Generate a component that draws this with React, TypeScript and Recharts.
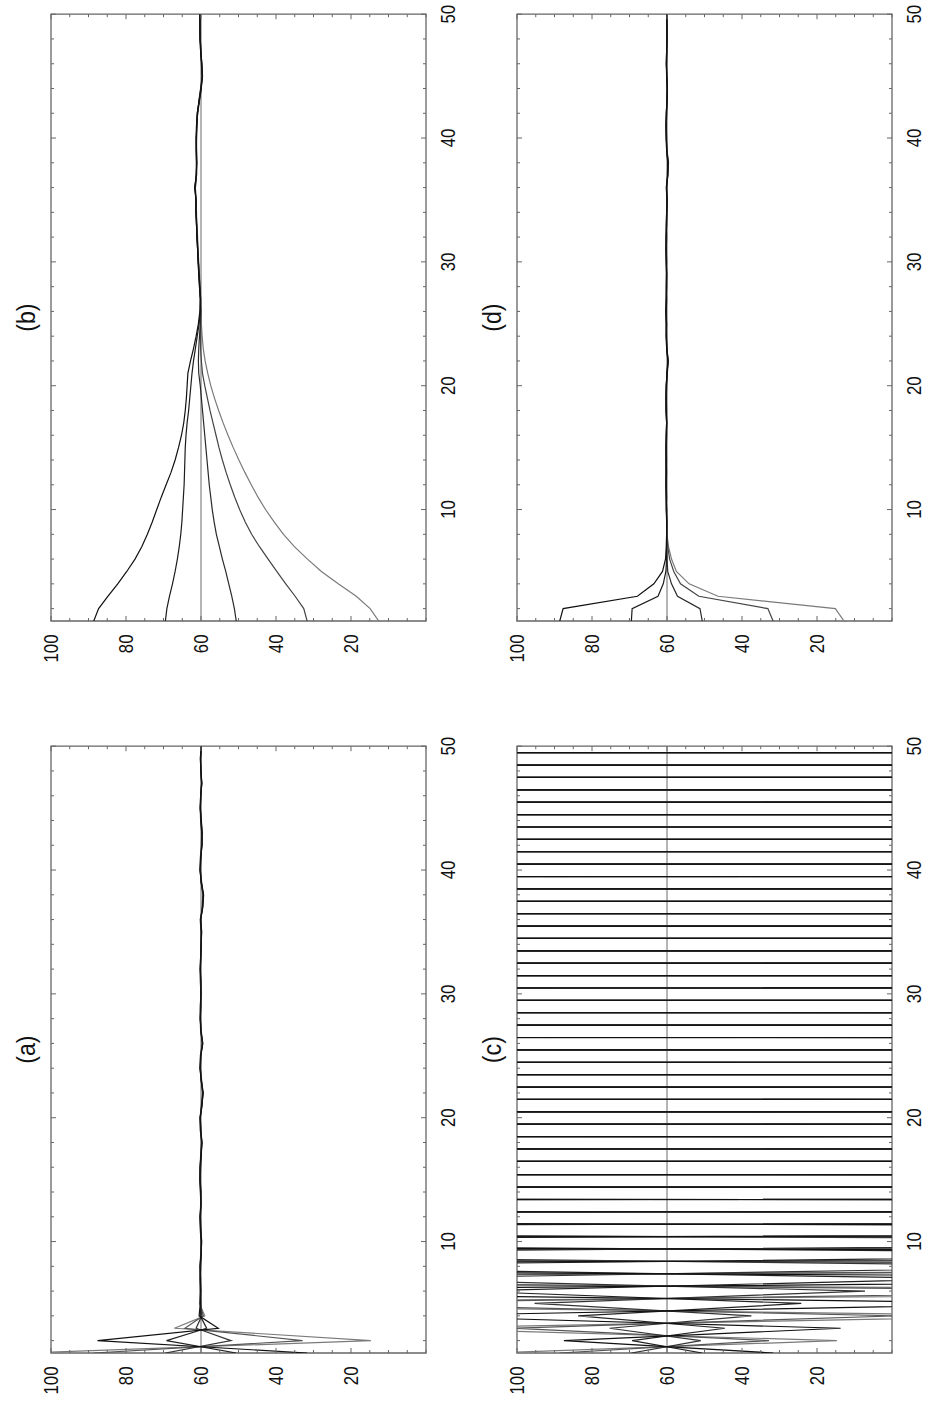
import React from 'react';
import { LineChart, Line, XAxis, YAxis, ReferenceLine, ReferenceArea } from 'recharts';

// ---------- categories / ticks ----------
const INDEX = [1,2,3,4,5,6,7,8,9,10,11,12,13,14,15,16,17,18,19,20,21,22,23,24,25,26,27,28,29,30,31,32,33,34,35,36,37,38,39,40,41,42,43,44,45,46,47,48,49,50];
const INDEX_TICKS = [2,4,6,8,10,12,14,16,18,20,22,24,26,28,30,32,34,36,38,40,42,44,46,48,50];
const INDEX_LABELS = [10,20,30,40,50];
const VALUE_TICKS = [0,5,10,15,20,25,30,35,40,45,50,55,60,65,70,75,80,85,90,95,100];
const VALUE_LABELS = [20,40,60,80,100];
const TITLES = ['(a)', '(b)', '(c)', '(d)'];

// ---------- panel (a) ----------
const A_S1 = [88.6,32.9,64.3,59.4, 60.3,60.1,60.3,60.2,60.1,59.9,60.1,60.2,60.0,60.2, 60.3,60.2,60.0,59.8,60.1,60.3,59.8,59.5,59.9,60.2, 60.1,59.6,60.0,60.2,60.1,60.0,60.2,60.2,60.1,60.0, 59.9,60.1,59.6,59.4,59.9,60.2,60.1,59.8,59.7,60.0, 60.2,60.1,59.8,60.0,60.1,59.9];
const A_S2 = [69.5,52.0,61.3,59.8, 60.1,60.0,60.2,60.2,60.0,59.9,60.0,60.1,60.0,60.1, 60.2,60.2,60.1,59.9,60.0,60.2,59.9,59.6,59.9,60.1, 60.1,59.7,60.0,60.1,60.1,60.0,60.1,60.1,60.1,60.0, 59.9,60.0,59.7,59.5,59.9,60.1,60.1,59.9,59.8,60.0, 60.1,60.1,59.9,60.0,60.1,60.0];
const A_S3 = [50.6,69.2,58.5,60.2, 60.0,60.2,60.2,60.1,59.9,60.0,60.2,60.2,60.1,60.0, 60.2,60.1,59.9,59.8,60.2,60.2,59.7,59.5,60.0,60.2, 60.0,59.6,60.1,60.2,60.0,60.1,60.1,60.2,60.0,59.9, 60.0,60.2,59.6,59.4,60.0,60.2,60.0,59.8,59.8,60.1, 60.2,60.0,59.8,60.1,60.1,59.9];
const A_S4 = [31.7,87.6,55.4,60.5, 60.2,60.1,60.1,60.3,60.0,59.8,60.1,60.3,60.0,60.1, 60.3,60.3,60.0,59.7,60.1,60.2,59.8,59.4,59.9,60.3, 60.1,59.5,60.0,60.2,60.2,60.0,60.0,60.2,60.1,60.0, 59.8,60.1,59.5,59.3,59.9,60.3,60.1,59.7,59.7,59.9, 60.2,60.1,59.8,60.0,60.2,59.9];
const A_S5 = [107.2,14.7,67.1,59.0, 60.4,60.2,60.2,60.1,60.1,60.0,60.1,60.2,60.0,60.0, 60.3,60.1,60.0,59.8,60.0,60.2,59.8,59.5,59.8,60.2, 60.2,59.6,59.9,60.2,60.1,60.0,60.1,60.2,60.1,60.1, 59.9,60.1,59.6,59.4,59.8,60.2,60.2,59.8,59.6,60.0, 60.2,60.1,59.8,60.0,60.1,59.9];

// ---------- panel (b) ----------
const B_S1 = [88.6,87.3,84.8,82.2,79.8,77.6,75.8,74.3,73.0,71.8, 70.6,69.3,68.0,66.9,66.0,65.2,64.6,64.2,63.9,63.7, 63.5,62.8,62.0,61.3,60.7,60.3,60.2,60.4,60.6,60.8, 60.9,61.1,61.2,61.4,61.3,61.7,61.2,61.2,61.3,61.3, 61.2,61.0,60.5,60.0,59.6,59.8,60.1,60.3,60.3,60.3];
const B_S2 = [69.5,69.1,68.4,67.6,66.9,66.3,65.8,65.4,65.1,64.9, 64.7,64.5,64.4,64.3,64.2,64.0,63.7,63.3,63.0,62.7, 62.4,62.0,61.5,61.0,60.5,60.2,60.1,60.3,60.5,60.7, 60.9,61.0,61.2,61.3,61.4,61.6,61.3,61.1,61.2,61.3, 61.1,60.9,60.4,59.9,59.7,59.9,60.1,60.2,60.3,60.2];
const B_S3 = [50.6,51.1,51.8,52.6,53.4,54.3,55.1,55.9,56.5,57.0, 57.4,57.8,58.1,58.4,58.7,59.0,59.3,59.6,59.9,60.2, 60.6,60.7,60.6,60.4,60.2,60.1,60.2,60.4,60.6,60.7, 60.9,61.1,61.1,61.3,61.4,61.5,61.2,61.2,61.2,61.2, 61.1,61.0,60.5,60.1,59.7,59.8,60.0,60.2,60.3,60.3];
const B_S4 = [31.7,32.6,34.9,37.4,39.8,42.1,44.4,46.5,48.2,49.7, 51.0,52.2,53.3,54.3,55.2,56.0,56.8,57.6,58.3,59.0, 59.6,59.9,60.1,60.1,60.1,60.0,60.1,60.3,60.5,60.7, 60.8,61.0,61.2,61.3,61.3,61.6,61.3,61.2,61.3,61.2, 61.2,60.9,60.5,60.0,59.6,59.8,60.0,60.2,60.2,60.3];
const B_S5 = [12.6,14.9,18.6,23.4,27.9,31.6,35.1,38.0,40.5,42.8, 44.8,46.6,48.3,49.9,51.4,52.8,54.1,55.3,56.4,57.4, 58.2,58.9,59.4,59.7,59.9,60.0,60.1,60.2,60.4,60.6, 60.8,60.9,61.1,61.2,61.3,61.5,61.2,61.1,61.2,61.2, 61.1,60.9,60.6,60.1,59.7,59.8,60.0,60.2,60.2,60.2];

// ---------- panel (c) ----------
const C_S1 = [88.6,32.8,100.8,-1.2,151.8,-77.7,266.5,-249.8,524.8,-637, 1106,-1509,2413,-3468,5353,-7880,8794,-9547,10627,-11565, 12847,-14005,15534,-16959,18782,-20536,22715,-24861,27472,-30094, 33230,-36426,40196,-44088,48623,-53361,58812,-64567,71161,-78140, 86094,-94569,104154,-114452,126023,-138497,152462,-167601,184476,-202798];
const C_S2 = [69.5,51.0,75.3,37.5,95.3,7.2,139,-58.6,238,-207, 460,-540,960,-1290,2085,-2977,3401,-3615,4102,-4387, 4951,-5320,5978,-6450,7221,-7817,8725,-9472,10545,-11473, 12747,-13895,15411,-16826,18635,-20372,22536,-24663,27256,-29855, 32967,-36137,39877,-43739,48239,-52936,58356,-64066,70598,-77532];
const C_S3 = [50.6,69.3,44.6,83.7,24.2,113.7,-20.5,180.8,-121,332, -348,672,-857,1436,-2004,3156,-3346,3806,-4061,4593, -4926,5545,-5973,6697,-7240,8090,-8773,9777,-10628,11817, -12873,14286,-15589,17274,-18875,20889,-22852,25263,-27663,30556, -33485,36960,-40530,44709,-49054,54085,-59368,65430,-71847,79158];
const C_S4 = [31.7,87.5,13.7,129.5,-44,216,-174,412,-467,851, -1127,1840,-2610,4065,-5948,9072,-9853,10965,-11935,13255, -14454,16026,-17502,19378,-21190,23435,-25653,28344,-31052,34284, -37586,41470,-45491,50167,-55057,60689,-66632,73421,-80637,88827, -97584,107468,-118089,130024,-142900,157316,-172922,190340,-209248,230299];
const C_S5 = [107.2,14.7,128,-42,213,-169,404,-456,834,-1101, 1802,-2553,3979,-5819,8878,-13167,14610,-15945,17665,-19306, 21362,-23373,25836,-28294,31249,-34248,37799,-41453,45724,-50170, 55313,-60719,66917,-73482,80957,-88926,97945,-107613,118501,-130225, 143373,-157585,173469,-190690,209885,-230748,253948,-279217,307265,-337865];

// ---------- panel (d) ----------
const D_S1 = [88.6,87.7,67.9,63.5,61.2,60.4,60.2,60.1, 60.1,60.2,60.2,60.3,60.2,60.2,60.3,60.2,60.1,60.2, 60.3,60.2,60.0,59.7,60.1,60.2,60.2,60.3,60.2,60.2, 60.1,60.2,60.3,60.2,60.2,60.1,60.0,60.2,59.8,59.7, 60.1,60.2,60.3,60.2,60.0,59.9,60.1,60.2,60.1,60.0, 60.0,60.1];
const D_S2 = [69.5,69.3,62.4,61.0,60.3,60.1,60.1,60.1, 60.1,60.1,60.2,60.2,60.2,60.3,60.2,60.2,60.1,60.2, 60.2,60.2,60.0,59.8,60.1,60.2,60.1,60.3,60.2,60.1, 60.1,60.2,60.2,60.2,60.1,60.1,60.0,60.1,59.9,59.8, 60.1,60.2,60.2,60.2,60.0,60.0,60.1,60.1,60.1,60.0, 60.1,60.1];
const D_S3 = [50.6,51.2,57.2,58.8,59.8,60.0,60.1,60.1, 60.0,60.2,60.1,60.2,60.3,60.2,60.2,60.1,60.1,60.3, 60.2,60.1,59.9,59.7,60.0,60.2,60.2,60.2,60.1,60.2, 60.2,60.1,60.2,60.3,60.1,60.0,60.0,60.1,59.8,59.6, 60.0,60.2,60.2,60.1,60.0,59.9,60.0,60.2,60.1,60.1, 60.0,60.0];
const D_S4 = [31.7,33.1,51.5,56.4,58.2,59.3,59.8,60.0, 60.1,60.1,60.2,60.2,60.1,60.2,60.2,60.2,60.1,60.1, 60.2,60.2,60.0,59.7,60.0,60.1,60.2,60.2,60.2,60.1, 60.1,60.2,60.2,60.1,60.2,60.1,60.0,60.1,59.8,59.7, 60.0,60.1,60.2,60.1,60.0,59.9,60.1,60.1,60.0,60.0, 60.0,60.1];
const D_S5 = [12.8,15.1,46.4,54.1,57.5,58.8,59.6,60.0, 60.0,60.1,60.2,60.2,60.2,60.1,60.2,60.1,60.0,60.2, 60.2,60.1,60.0,59.8,60.0,60.1,60.1,60.2,60.1,60.1, 60.0,60.1,60.2,60.1,60.1,60.0,59.9,60.1,59.8,59.8, 60.0,60.1,60.2,60.1,60.0,59.9,60.0,60.1,60.0,60.0, 59.9,60.0];

// ---------- layout / style ----------
const FONT = "'Liberation Sans', Arial, sans-serif";
const CW = 667;
const CH = 460;
const MT = 45;
const MR = 10.2;
const YW = 50;
const XH = 40;
const PW = CW - YW - MR; // plot width
const PH = CH - MT - XH; // plot height
const TICK = '#666666';
const LABEL_SIZE = 19.5;
const LABEL_SX = 0.86;

function buildRows(series: number[][]) {
  return INDEX.map((i, k) => ({
    i,
    s1: series[0][k],
    s2: series[1][k],
    s3: series[2][k],
    s4: series[3][k],
    s5: series[4][k],
  }));
}

const renderIndexTick = (props: any) => {
  const { x, y, payload } = props;
  const v = payload.value;
  const major = INDEX_LABELS.includes(v);
  const len = major ? 5 : 3;
  return (
    <g>
      <line x1={x} y1={y} x2={x} y2={y - len} stroke={TICK} strokeWidth={1} />
      <line x1={x} y1={y - PH} x2={x} y2={y - PH + len} stroke={TICK} strokeWidth={1} />
      {major && (
        <text
          transform={`translate(${x},${y + 29.3}) scale(${LABEL_SX},1)`}
          textAnchor="middle"
          fontSize={LABEL_SIZE}
          fontFamily={FONT}
          fill="#111"
        >
          {v}
        </text>
      )}
    </g>
  );
};

const renderValueTick = (props: any) => {
  const { x, y, payload } = props;
  const v = payload.value;
  const major = VALUE_LABELS.includes(v);
  const len = major ? 5 : 3;
  return (
    <g>
      <line x1={x} y1={y} x2={x + len} y2={y} stroke={TICK} strokeWidth={1} />
      <line x1={x + PW} y1={y} x2={x + PW - len} y2={y} stroke={TICK} strokeWidth={1} />
      {major && (
        <text
          transform={`translate(${x - 13.5},${y + 7}) scale(${LABEL_SX},1)`}
          textAnchor="end"
          fontSize={LABEL_SIZE}
          fontFamily={FONT}
          fill="#111"
        >
          {v}
        </text>
      )}
    </g>
  );
};

type SeriesStyle = { key: string; color: string };

function Panel(props: { left: number; top: number; title: string; rows: any[]; styles: SeriesStyle[] }) {
  const { left, top, title, rows, styles } = props;
  return (
    <div style={{ position: 'absolute', left, top, width: CW, height: CH }}>
      <LineChart width={CW} height={CH} data={rows} margin={{ top: MT, right: MR, bottom: 0, left: 0 }}>
        <XAxis
          dataKey="i"
          type="number"
          domain={[1, 50]}
          ticks={INDEX_TICKS}
          interval={0}
          allowDataOverflow
          height={XH}
          tickSize={0}
          tickMargin={0}
          axisLine={false}
          tickLine={false}
          tick={renderIndexTick}
        />
        <YAxis
          type="number"
          domain={[0, 100]}
          ticks={VALUE_TICKS}
          interval={0}
          allowDataOverflow
          width={YW}
          tickSize={0}
          tickMargin={0}
          axisLine={false}
          tickLine={false}
          tick={renderValueTick}
        />
        <ReferenceLine y={60} stroke="#6a6a6a" strokeWidth={1} />
        {styles.map((s) => (
          <Line
            key={s.key}
            type="linear"
            dataKey={s.key}
            stroke={s.color}
            strokeWidth={1.2}
            dot={false}
            activeDot={false}
            isAnimationActive={false}
          />
        ))}
        <ReferenceArea x1={1} x2={50} y1={0} y2={100} fill="none" fillOpacity={0} stroke={TICK} strokeWidth={1.3} />
      </LineChart>
      <svg width={CW} height={MT} style={{ position: 'absolute', left: 0, top: 0, pointerEvents: 'none' }}>
        <text
          transform={`translate(${YW + PW / 2},${MT - 16}) scale(0.93,1)`}
          textAnchor="middle"
          fontSize={25}
          fontFamily={FONT}
          fill="#111"
        >
          {title}
        </text>
      </svg>
    </div>
  );
}

const STYLES_AC: SeriesStyle[] = [
  { key: 's5', color: '#7a7a7a' },
  { key: 's1', color: '#555555' },
  { key: 's2', color: '#333333' },
  { key: 's3', color: '#222222' },
  { key: 's4', color: '#111111' },
];
const STYLES_BD: SeriesStyle[] = [
  { key: 's5', color: '#7a7a7a' },
  { key: 's4', color: '#444444' },
  { key: 's3', color: '#2a2a2a' },
  { key: 's2', color: '#1c1c1c' },
  { key: 's1', color: '#101010' },
];

const ROWS_A = buildRows([A_S1, A_S2, A_S3, A_S4, A_S5]);
const ROWS_B = buildRows([B_S1, B_S2, B_S3, B_S4, B_S5]);
const ROWS_C = buildRows([C_S1, C_S2, C_S3, C_S4, C_S5]);
const ROWS_D = buildRows([D_S1, D_S2, D_S3, D_S4, D_S5]);

export default function App() {
  return (
    <div style={{ width: 911, height: 1394 }}>
      <div
        style={{
          position: 'absolute',
          left: 0,
          top: 0,
          width: 1410,
          height: 927,
          background: '#fff',
          transformOrigin: '0 0',
          transform: 'translate(0px, 1410px) rotate(-90deg)',
        }}
      >
        <Panel left={6.7} top={5.7} title={TITLES[0]} rows={ROWS_A} styles={STYLES_AC} />
        <Panel left={738.5} top={5.7} title={TITLES[1]} rows={ROWS_B} styles={STYLES_BD} />
        <Panel left={6.7} top={472.3} title={TITLES[2]} rows={ROWS_C} styles={STYLES_AC} />
        <Panel left={738.5} top={472.3} title={TITLES[3]} rows={ROWS_D} styles={STYLES_BD} />
      </div>
    </div>
  );
}
